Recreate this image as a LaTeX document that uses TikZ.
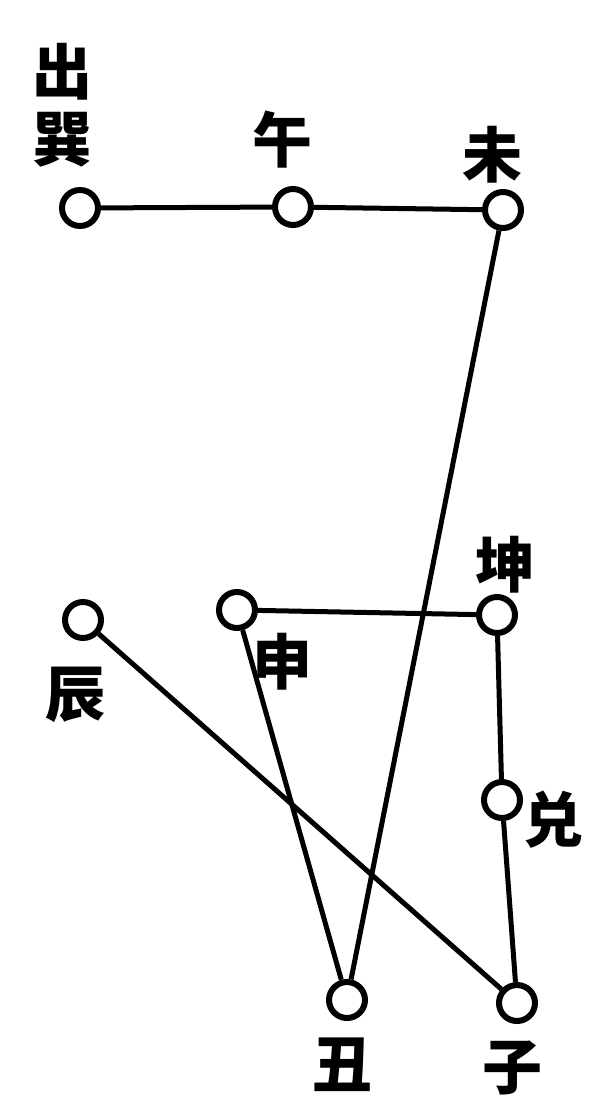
\documentclass[tikz,border=0pt]{standalone}
\usepackage{fontspec}
\newfontfamily\cjk{Noto Sans CJK SC}[BoldFont={* Black}]
\begin{document}
\begin{tikzpicture}[x=1pt,y=-1pt,
  pt/.style={circle,draw,line width=6pt,minimum size=36pt,inner sep=0pt,fill=white},
  edge/.style={line width=5pt},
  lab/.style={font=\cjk\bfseries\fontsize{60}{64}\selectfont,inner sep=0pt}]
\useasboundingbox (0,0) rectangle (605,1102);
\node[pt] (xun) at (80,208) {};
\node[pt] (wu) at (293,207) {};
\node[pt] (wei) at (503,210) {};
\node[pt] (kun) at (497,615) {};
\node[pt] (shen) at (237,610) {};
\node[pt] (chen) at (83,620) {};
\node[pt] (dui) at (502,800) {};
\node[pt] (chou) at (347,1000) {};
\node[pt] (zi) at (517,1003) {};
\draw[edge] (xun) -- (wu);
\draw[edge] (wu) -- (wei);
\draw[edge] (wei) -- (chou);
\draw[edge] (shen) -- (kun);
\draw[edge] (kun) -- (dui);
\draw[edge] (dui) -- (zi);
\draw[edge] (shen) -- (chou);
\draw[edge] (chen) -- (zi);
\node[lab] (l1) at (62,72) {出};
\node[lab] (l2) at (62,140) {巽};
\node[lab] (l3) at (282,140) {午};
\node[lab] (l4) at (492,155) {未};
\node[lab] (l5) at (505,565) {坤};
\node[lab] (l6) at (282,662) {申};
\node[lab] (l7) at (75,695) {辰};
\node[lab] (l8) at (553,820) {兑};
\node[lab] (l9) at (342,1065) {丑};
\node[lab] (l10) at (512,1068) {子};
\end{tikzpicture}
\end{document}
